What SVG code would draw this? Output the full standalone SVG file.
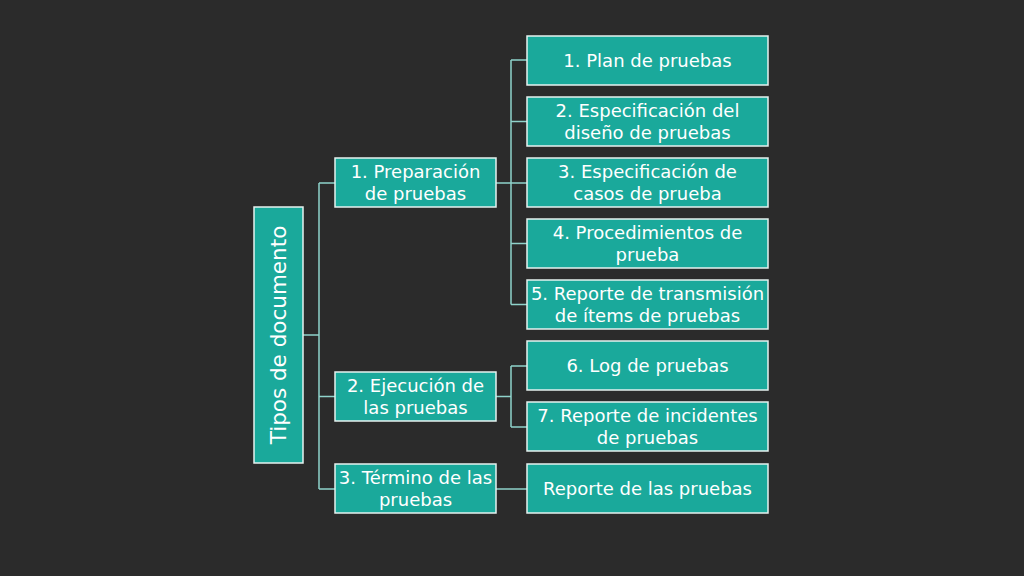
<svg xmlns="http://www.w3.org/2000/svg" width="1024" height="576" viewBox="0 0 1024 576">
<style>
.bg{fill:#2b2b2b}
.box{fill:#1aa99b;stroke:#e6f2f0;stroke-width:1.5}
.t{font-family:"DejaVu Sans","Liberation Sans",sans-serif;font-size:18px;fill:#ffffff;text-anchor:middle}
.root{font-size:21.5px}
.c{fill:none;stroke:#8fd3cb;stroke-width:1.5}
</style>
<rect class="bg" x="0" y="0" width="1024" height="576"/>
<g id="connectors">
<path class="c" d="M303,335 H319 M319,183 V489 M319,183 H335 M319,396.5 H335 M319,489 H335"/>
<path class="c" d="M496,183 H511 M511,60 V304.5 M511,60 H527 M511,121.5 H527 M511,183 H527 M511,243.5 H527 M511,304.5 H527"/>
<path class="c" d="M496,396.5 H511 M511,366 V427 M511,366 H527 M511,427 H527"/>
<path class="c" d="M496,489 H527"/>
</g>
<g id="root"><rect class="box" x="254" y="207" width="49" height="256"/><text class="t root" transform="translate(286,335) rotate(-90)">Tipos de documento</text></g>
<g id="n1"><rect class="box" x="335" y="158" width="161" height="49"/><text class="t" x="415.5" y="178">1. Preparación</text><text class="t" x="415.5" y="200">de pruebas</text></g>
<g id="n2"><rect class="box" x="335" y="372" width="161" height="49"/><text class="t" x="415.5" y="392">2. Ejecución de</text><text class="t" x="415.5" y="414">las pruebas</text></g>
<g id="n3"><rect class="box" x="335" y="464" width="161" height="49"/><text class="t" x="415.5" y="484">3. Término de las</text><text class="t" x="415.5" y="506">pruebas</text></g>
<g id="c1"><rect class="box" x="527" y="36" width="241" height="49"/><text class="t" x="647.5" y="67">1. Plan de pruebas</text></g>
<g id="c2"><rect class="box" x="527" y="97" width="241" height="49"/><text class="t" x="647.5" y="117">2. Especificación del</text><text class="t" x="647.5" y="139">diseño de pruebas</text></g>
<g id="c3"><rect class="box" x="527" y="158" width="241" height="49"/><text class="t" x="647.5" y="178">3. Especificación de</text><text class="t" x="647.5" y="200">casos de prueba</text></g>
<g id="c4"><rect class="box" x="527" y="219" width="241" height="49"/><text class="t" x="647.5" y="239">4. Procedimientos de</text><text class="t" x="647.5" y="261">prueba</text></g>
<g id="c5"><rect class="box" x="527" y="280" width="241" height="49"/><text class="t" x="647.5" y="300">5. Reporte de transmisión</text><text class="t" x="647.5" y="322">de ítems de pruebas</text></g>
<g id="c6"><rect class="box" x="527" y="341" width="241" height="49"/><text class="t" x="647.5" y="372">6. Log de pruebas</text></g>
<g id="c7"><rect class="box" x="527" y="402" width="241" height="49"/><text class="t" x="647.5" y="422">7. Reporte de incidentes</text><text class="t" x="647.5" y="444">de pruebas</text></g>
<g id="c8"><rect class="box" x="527" y="464" width="241" height="49"/><text class="t" x="647.5" y="495">Reporte de las pruebas</text></g>
</svg>
